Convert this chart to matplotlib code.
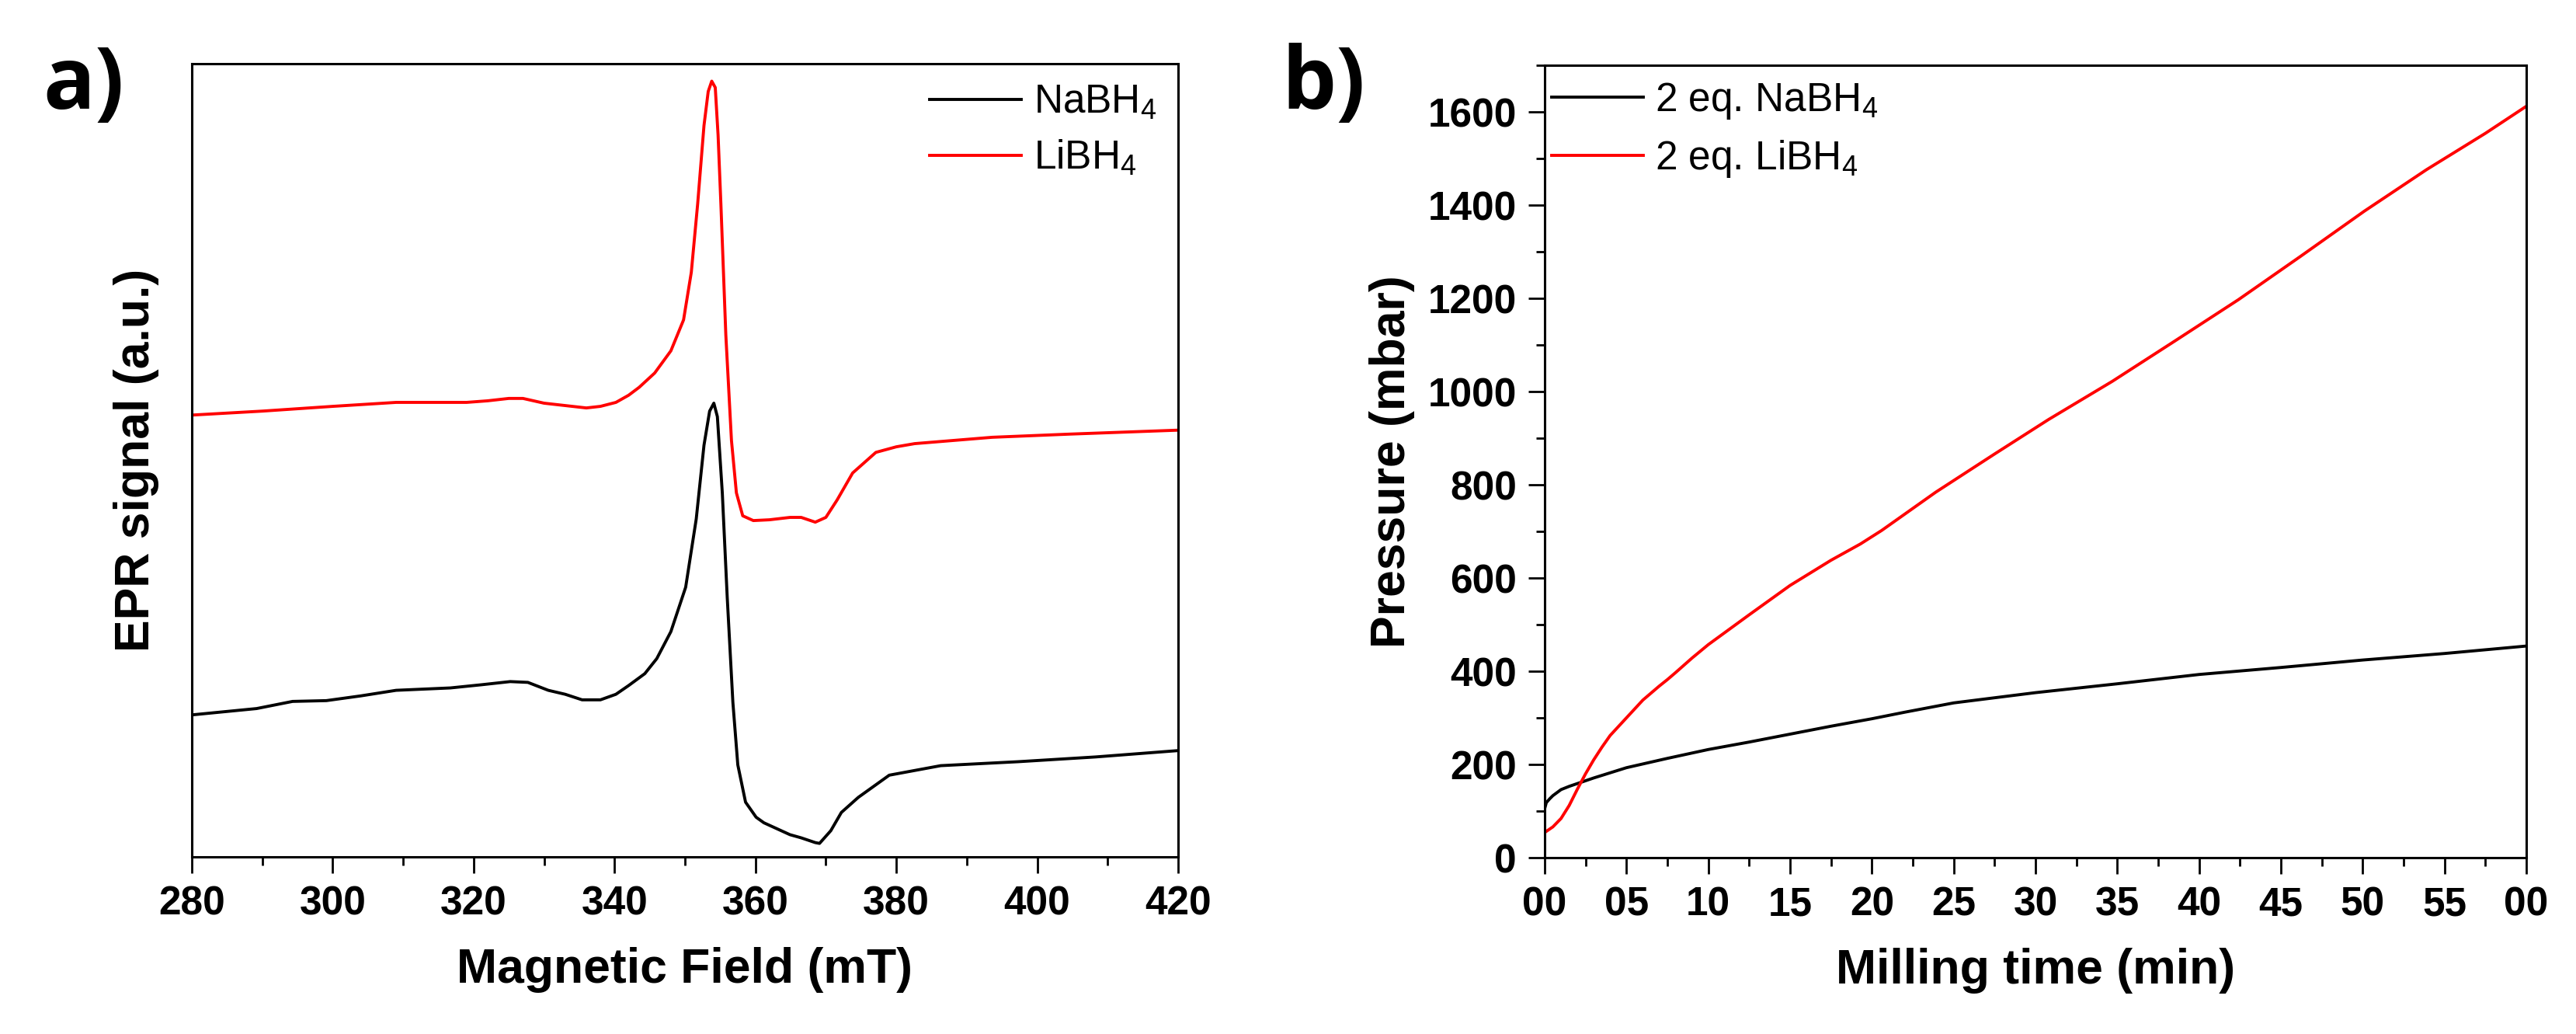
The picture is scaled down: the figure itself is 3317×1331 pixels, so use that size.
import matplotlib
matplotlib.use("Agg")
import matplotlib.pyplot as plt
from matplotlib.ticker import MultipleLocator

plt.rcParams['font.family'] = ['Liberation Sans', 'DejaVu Sans']
plt.rcParams['mathtext.default'] = 'regular'

# a) EPR spectra (arbitrary units, 0-100 of the axis height)
field_li = [280, 290, 300, 309, 319, 322, 325, 327, 330, 333, 336, 338, 340.2, 342, 343.5,
            345.7, 348, 349.8, 350.9, 351.8, 352.7, 353.3, 353.8, 354.3, 354.7, 355.1, 355.8,
            356.6, 357.3, 358.2, 359.7, 362, 364.9, 366.5, 368.5, 370, 371.6, 373.8, 377.1,
            380, 382.6, 393.6, 404.6, 420]
epr_li = [55.7, 56.2, 56.8, 57.3, 57.3, 57.5, 57.8, 57.8, 57.2, 56.9, 56.6, 56.8, 57.3, 58.2, 59.2,
          61.0, 63.8, 67.7, 73.7, 82.3, 92.2, 96.5, 97.8, 97.0, 91.0, 82.3, 65.8,
          52.5, 45.9, 43.0, 42.4, 42.5, 42.8, 42.8, 42.2, 42.8, 45.0, 48.4, 51.0,
          51.7, 52.1, 52.9, 53.3, 53.8]

field_na = [280, 289.2, 294.3, 299.1, 304, 309, 316.7, 321.1, 325.2, 327.7, 330.6, 333, 335.4,
            338, 340.2, 342, 344.3, 346, 348, 350.1, 351.6, 352.7, 353.5, 354.1, 354.6, 355.3,
            356, 356.8, 357.5, 358.6, 360.1, 361.2, 364.9, 366.5, 368.5, 369.1, 370.7, 372.2,
            374.6, 379, 386.3, 397.3, 408.3, 420]
epr_na = [17.9, 18.7, 19.6, 19.7, 20.3, 21.0, 21.3, 21.7, 22.1, 22.0, 21.0, 20.5, 19.8,
          19.8, 20.5, 21.6, 23.1, 25.0, 28.4, 34.0, 42.6, 51.9, 56.2, 57.2, 55.5, 45.9,
          32.7, 19.5, 11.6, 6.9, 5.0, 4.3, 2.8, 2.4, 1.8, 1.7, 3.3, 5.6,
          7.5, 10.3, 11.5, 12.0, 12.6, 13.4]

# b) pressure during milling (mbar)
t_na = [0, 0.1, 0.3, 0.5, 1, 1.5, 2, 3, 4, 5, 7.5, 10, 12.5, 15, 17.5, 20, 22, 25, 30, 35,
        40, 45, 50, 55, 60]
p_na = [105, 118, 126, 133, 146, 153, 159, 171, 182, 193, 213, 232, 248, 265, 282, 298, 312,
        332, 354, 373, 393, 408, 424, 438, 454]

t_li = [0, 0.5, 1, 1.5, 2, 2.5, 3, 3.5, 4, 5, 6, 7, 7.5, 8, 9, 10, 12.5, 15, 17.5, 19.3,
        20.6, 23.9, 27.5, 30.8, 34.7, 38.5, 42.4, 46.2, 50.1, 53.9, 57.5, 60]
p_li = [54, 66, 84, 112, 147, 180, 210, 237, 262, 300, 338, 368, 382, 397, 428, 457, 521, 584,
        638, 673, 702, 784, 866, 940, 1022, 1108, 1197, 1290, 1387, 1476, 1554, 1612]

time_ticks = [0, 5, 10, 15, 20, 25, 30, 35, 40, 45, 50, 55, 60]
time_labels = ['00', '05', '10', '15', '20', '25', '30', '35', '40', '45', '50', '55', '00']

W, H = 3317, 1331
fig = plt.figure(figsize=(W / 100, H / 100), dpi=100)

ax1 = fig.add_axes([247 / W, 1 - 1103 / H, (1517 - 247) / W, (1103 - 82) / H])
ax2 = fig.add_axes([1989 / W, 1 - 1104 / H, (3253 - 1989) / W, (1104 - 84) / H])

lw = 2.8
ax1.plot(field_na, epr_na, color='black', lw=lw, label='NaBH$_4$')
ax1.plot(field_li, epr_li, color='#ff0000', lw=lw, label='LiBH$_4$')
ax1.set_xlim(280, 420)
ax1.set_ylim(0, 100)
ax1.xaxis.set_major_locator(MultipleLocator(20))
ax1.xaxis.set_minor_locator(MultipleLocator(10))
ax1.set_yticks([])
ax1.set_xlabel('Magnetic Field (mT)', fontsize=45, fontweight='bold', labelpad=22)
ax1.set_ylabel('EPR signal (a.u.)', fontsize=45, fontweight='bold', labelpad=30)
ax1.legend(loc='upper left', bbox_to_anchor=(0.748, 0.975), frameon=False, fontsize=37,
           handlelength=2.3, handletextpad=0.3, labelspacing=0.42,
           borderpad=0, borderaxespad=0)

ax2.plot(t_na, p_na, color='black', lw=lw, label='2 eq. NaBH$_4$')
ax2.plot(t_li, p_li, color='#ff0000', lw=lw, label='2 eq. LiBH$_4$')
ax2.set_xlim(0, 60)
ax2.set_ylim(0, 1700)
ax2.set_xticks(time_ticks)
ax2.set_xticklabels(time_labels)
ax2.xaxis.set_minor_locator(MultipleLocator(2.5))
ax2.yaxis.set_major_locator(MultipleLocator(200))
ax2.yaxis.set_minor_locator(MultipleLocator(100))
ax2.set_xlabel('Milling time (min)', fontsize=45, fontweight='bold', labelpad=22)
ax2.set_ylabel('Pressure (mbar)', fontsize=45, fontweight='bold', labelpad=12)
ax2.legend(loc='upper left', bbox_to_anchor=(0.007, 0.98), frameon=False, fontsize=37,
           handlelength=2.3, handletextpad=0.3, labelspacing=0.42,
           borderpad=0, borderaxespad=0)

for ax in (ax1, ax2):
    for s in ax.spines.values():
        s.set_linewidth(2.2)
    ax.tick_params(which='major', direction='out', length=15, width=2, labelsize=37, pad=11)
    ax.tick_params(which='minor', direction='out', length=8, width=2)
    ax.tick_params(top=False, right=False)
    for lab in ax.get_xticklabels() + ax.get_yticklabels():
        lab.set_fontweight('bold')

fig.text(55 / W, 1 - 55 / H, 'a)', fontsize=80, fontweight='bold', family='Open Sans',
         ha='left', va='top')
fig.text(1650 / W, 1 - 55 / H, 'b)', fontsize=80, fontweight='bold', family='Open Sans',
         ha='left', va='top')

fig.savefig('out.png', dpi=100)
